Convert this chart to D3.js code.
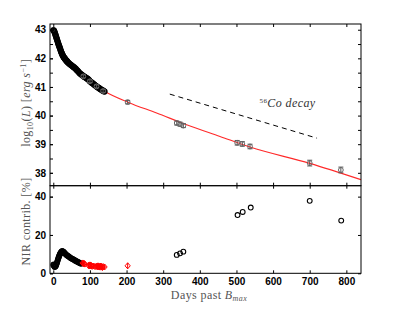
<!DOCTYPE html>
<html>
<head>
<meta charset="utf-8">
<script src="https://cdn.jsdelivr.net/npm/d3@7"></script>
<style>
  body { margin: 0; background: #fff; }
  .tick text { font-family: "Liberation Sans", Arial, sans-serif; font-weight: bold; font-size: 10px; fill: #000; }
  .lbl { font-family: "Liberation Serif", "DejaVu Serif", serif; font-weight: normal; fill: #555; letter-spacing: 0.4px; }
</style>
</head>
<body>
<div id="chart-area"></div>
<script>
// early light curve (black open circles)
const lcDays = [0, 1, 2, 3, 4, 5, 6, 7, 8, 9, 10, 11, 12, 13, 14, 15, 16, 17, 18, 19, 20, 21, 22, 23, 24, 25, 26,
    27, 28, 29, 30, 31, 32, 33, 34, 35, 36, 37, 38, 39, 40, 42, 44, 46, 48, 50, 52, 54, 56, 58, 60, 62, 64, 66,
    68, 70, 72, 74, 76, 78, 80, 82, 84, 86, 88, 90, 92, 94, 96, 98, 100, 102, 104, 106, 108, 110, 112, 114, 116,
    118, 120, 122, 124, 126, 128, 130, 132, 134, 136, 138, 140];
const lcLogL = [42.98, 42.98, 42.96, 42.93, 42.9, 42.86, 42.82, 42.78, 42.74, 42.7, 42.66, 42.62, 42.58, 42.54,
    42.5, 42.46, 42.43, 42.39, 42.36, 42.32, 42.28, 42.24, 42.21, 42.18, 42.15, 42.12, 42.1, 42.07, 42.05, 42.03,
    42.01, 42.0, 41.98, 41.96, 41.95, 41.93, 41.92, 41.9, 41.89, 41.87, 41.86, 41.83, 41.81, 41.79, 41.77, 41.75,
    41.73, 41.71, 41.69, 41.67, 41.65, 41.62, 41.59, 41.57, 41.54, 41.51, 41.48, 41.46, 41.44, 41.42, 41.4, 41.38,
    41.36, 41.35, 41.33, 41.31, 41.3, 41.28, 41.26, 41.23, 41.2, 41.18, 41.16, 41.14, 41.12, 41.1, 41.08, 41.06,
    41.04, 41.02, 41.0, 40.98, 40.97, 40.95, 40.93, 40.91, 40.9, 40.88, 40.87, 40.85, 40.84];

// points with error bars (grey)
const errDays = [82, 100, 118, 136, 203, 337, 346, 355, 502, 516, 537, 700, 785];
const errLogL = [41.37, 41.2, 41.02, 40.86, 40.47, 39.74, 39.7, 39.65, 39.05, 39.01, 38.92, 38.34, 38.1];
const errSize = [0.05, 0.05, 0.05, 0.05, 0.06, 0.07, 0.07, 0.07, 0.08, 0.08, 0.08, 0.1, 0.1];

// fitted curve (red)
const fitDays = [60, 100, 141, 205, 282, 364, 455, 537, 700, 840];
const fitLogL = [41.65, 41.2, 40.84, 40.46, 40.09, 39.68, 39.27, 38.9, 38.33, 37.76];

// 56Co decay slope (dashed)
const coDays = [318, 720];
const coLogL = [40.75, 39.21];

// NIR contribution, black circles
const nirDays = [0, 1, 2, 3, 4, 5, 6, 7, 8, 9, 10, 11, 12, 13, 14, 15, 16, 17, 18, 19, 20, 21, 22, 23, 24, 25, 26,
    27, 28, 29, 30, 32, 34, 36, 38, 40, 42, 44, 46, 48, 50, 52, 54, 56, 58, 60, 62, 64, 66, 68, 70, 72, 74, 76,
    337, 346, 355, 503, 517, 539, 700, 786];
const nirPct = [4.3, 4.6, 4.0, 3.6, 3.3, 3.5, 3.7, 4.0, 4.5, 5.0, 5.5, 6.1, 6.8, 7.4, 8.0, 8.5, 9.0, 9.5, 9.9,
    10.3, 10.6, 10.9, 11.2, 11.4, 11.5, 11.5, 11.4, 11.3, 11.1, 10.9, 10.7, 10.3, 9.9, 9.6, 9.3, 9.0, 8.8, 8.5,
    8.2, 7.9, 7.7, 7.5, 7.3, 7.1, 6.9, 6.6, 6.4, 6.2, 6.0, 5.8, 5.6, 5.4, 5.2, 5.0,
    9.6, 10.4, 11.3, 30.4, 32.0, 34.3, 37.8, 27.5];

// NIR contribution, red diamonds
const redDays = [80, 82, 84, 86, 96, 98, 100, 102, 104, 106, 110, 114, 118, 120, 122, 124, 126, 128, 130, 132,
    134, 136, 140, 203];
const redPct = [5.4, 5.0, 5.2, 4.8, 4.2, 3.8, 4.4, 3.9, 4.1, 3.6, 3.8, 3.5, 3.7, 3.4, 3.9, 3.3, 3.6, 3.2, 3.8, 3.4,
    3.0, 3.5, 3.3, 3.9];
const redErr = [1.4, 1.4, 1.4, 1.4, 1.4, 1.4, 1.4, 1.4, 1.4, 1.4, 1.4, 1.4, 1.4, 1.4, 1.4, 1.4, 1.4, 1.4, 1.4, 1.4,
    1.4, 1.4, 1.4, 1.6];

const xTicks = [0, 100, 200, 300, 400, 500, 600, 700, 800];
const yTopTicks = [38, 39, 40, 41, 42, 43];
const yTopMinor = [38, 38.5, 39, 39.5, 40, 40.5, 41, 41.5, 42, 42.5, 43];
const yBotTicks = [0, 20, 40];

const W = 415, H = 312;
const pLeft = 50, pRight = 361, pTop = 24, pMid = 185.7, pBottom = 273.3;

const svg = d3.select('#chart-area')
    .append('svg')
    .attr('width', W)
    .attr('height', H);

const x = d3.scaleLinear().domain([-9, 840]).range([pLeft, pRight]);
const yTop = d3.scaleLinear().domain([37.55, 43.2]).range([pMid, pTop]);
const yBot = d3.scaleLinear().domain([0, 45.7]).range([pBottom, pMid]);

svg.append('clipPath').attr('id', 'clipTop')
    .append('rect').attr('x', pLeft).attr('y', pTop).attr('width', pRight - pLeft).attr('height', pMid - pTop);
svg.append('clipPath').attr('id', 'clipBot')
    .append('rect').attr('x', pLeft).attr('y', pMid).attr('width', pRight - pLeft).attr('height', pBottom - pMid);

// ---- top panel ----
const gTop = svg.append('g').attr('clip-path', 'url(#clipTop)');

gTop.append('path')
    .datum(fitDays.map((d, i) => [d, fitLogL[i]]))
    .attr('fill', 'none')
    .attr('stroke', '#ff2a2a')
    .attr('stroke-width', 1.1)
    .attr('d', d3.line().x(d => x(d[0])).y(d => yTop(d[1])).curve(d3.curveMonotoneX));

gTop.append('path')
    .datum(coDays.map((d, i) => [d, coLogL[i]]))
    .attr('fill', 'none')
    .attr('stroke', '#000')
    .attr('stroke-width', 1)
    .attr('stroke-dasharray', '5,4')
    .attr('d', d3.line().x(d => x(d[0])).y(d => yTop(d[1])));

gTop.selectAll('.lc')
    .data(lcDays)
    .enter()
    .append('circle')
    .attr('cx', d => x(d))
    .attr('cy', (d, i) => yTop(lcLogL[i]))
    .attr('r', 2.5)
    .attr('fill', 'none')
    .attr('stroke', '#000')
    .attr('stroke-width', 1.2);

const eg = gTop.selectAll('.eb')
    .data(errDays)
    .enter()
    .append('g');
eg.append('line')
    .attr('x1', d => x(d)).attr('x2', d => x(d))
    .attr('y1', (d, i) => yTop(errLogL[i] - errSize[i]))
    .attr('y2', (d, i) => yTop(errLogL[i] + errSize[i]))
    .attr('stroke', '#555');
eg.append('line')
    .attr('x1', d => x(d) - 2.5).attr('x2', d => x(d) + 2.5)
    .attr('y1', (d, i) => yTop(errLogL[i] - errSize[i]))
    .attr('y2', (d, i) => yTop(errLogL[i] - errSize[i]))
    .attr('stroke', '#555');
eg.append('line')
    .attr('x1', d => x(d) - 2.5).attr('x2', d => x(d) + 2.5)
    .attr('y1', (d, i) => yTop(errLogL[i] + errSize[i]))
    .attr('y2', (d, i) => yTop(errLogL[i] + errSize[i]))
    .attr('stroke', '#555');
eg.append('circle')
    .attr('cx', d => x(d))
    .attr('cy', (d, i) => yTop(errLogL[i]))
    .attr('r', 2.4)
    .attr('fill', 'none')
    .attr('stroke', '#666')
    .attr('stroke-width', 1);

const coText = svg.append('text')
    .attr('class', 'lbl')
    .attr('x', x(563))
    .attr('y', yTop(40.3))
    .style('font-size', '12px')
    .style('font-style', 'italic')
    .style('fill', '#333');
coText.append('tspan').attr('dy', -4).style('font-size', '7px').style('font-style', 'normal').text('56');
coText.append('tspan').attr('dy', 4).text('Co decay');

// ---- bottom panel ----
const gBot = svg.append('g').attr('clip-path', 'url(#clipBot)');

gBot.selectAll('.nir')
    .data(nirDays)
    .enter()
    .append('circle')
    .attr('cx', d => x(d))
    .attr('cy', (d, i) => yBot(nirPct[i]))
    .attr('r', 2.4)
    .attr('fill', 'none')
    .attr('stroke', '#000')
    .attr('stroke-width', 1.1);

const rg = gBot.selectAll('.red')
    .data(redDays)
    .enter()
    .append('g');
rg.append('line')
    .attr('x1', d => x(d)).attr('x2', d => x(d))
    .attr('y1', (d, i) => yBot(redPct[i] - redErr[i]))
    .attr('y2', (d, i) => yBot(redPct[i] + redErr[i]))
    .attr('stroke', '#ff0000');
rg.append('path')
    .attr('transform', (d, i) => `translate(${x(d)},${yBot(redPct[i])})`)
    .attr('d', 'M0,-3L2.6,0L0,3L-2.6,0Z')
    .attr('fill', 'none')
    .attr('stroke', '#ff0000')
    .attr('stroke-width', 1);

// ---- axes ----
function frame(yScale, y0, y1, major, minor) {
    svg.append('g')
        .attr('transform', `translate(${pLeft},0)`)
        .call(d3.axisLeft(yScale).tickValues(major).tickFormat(d3.format('d')).tickSize(-3).tickPadding(4).tickSizeOuter(0))
        .call(g => g.select('.domain').remove());
    svg.append('g')
        .attr('transform', `translate(${pLeft},0)`)
        .call(d3.axisLeft(yScale).tickValues(minor).tickSize(-3).tickFormat('').tickSizeOuter(0))
        .call(g => g.select('.domain').remove());
    svg.append('g')
        .attr('transform', `translate(${pRight},0)`)
        .call(d3.axisRight(yScale).tickValues(minor).tickSize(-3).tickFormat('').tickSizeOuter(0))
        .call(g => g.select('.domain').remove());
    svg.append('g')
        .attr('transform', `translate(0,${y0})`)
        .call(d3.axisBottom(x).tickValues(xTicks).tickSize(-3).tickFormat('').tickSizeOuter(0))
        .call(g => g.select('.domain').remove());
    svg.append('g')
        .attr('transform', `translate(0,${y1})`)
        .call(d3.axisTop(x).tickValues(xTicks).tickSize(-3).tickFormat('').tickSizeOuter(0))
        .call(g => g.select('.domain').remove());
    svg.append('rect')
        .attr('x', pLeft).attr('y', y1)
        .attr('width', pRight - pLeft).attr('height', y0 - y1)
        .attr('fill', 'none').attr('stroke', '#000').attr('stroke-width', 1);
}

frame(yTop, pMid, pTop, yTopTicks, yTopMinor);
frame(yBot, pBottom, pMid, yBotTicks, yBotTicks);

svg.append('g')
    .attr('transform', `translate(0,${pBottom})`)
    .call(d3.axisBottom(x).tickValues(xTicks).tickFormat(d3.format('d')).tickSize(0).tickPadding(5))
    .call(g => g.select('.domain').remove());

// ---- labels ----
const yl1 = svg.append('text')
    .attr('class', 'lbl')
    .attr('text-anchor', 'middle')
    .attr('transform', `translate(30,${(pTop + pMid) / 2 - 2}) rotate(-90)`)
    .style('font-size', '12px');
yl1.append('tspan').text('log');
yl1.append('tspan').attr('dy', 3).style('font-size', '8px').text('10');
yl1.append('tspan').attr('dy', -3).text('(');
yl1.append('tspan').style('font-style', 'italic').text('L');
yl1.append('tspan').text(') [');
yl1.append('tspan').style('font-style', 'italic').text('erg s');
yl1.append('tspan').attr('dy', -4).style('font-size', '8px').text('\u22121');
yl1.append('tspan').attr('dy', 4).text(']');

svg.append('text')
    .attr('class', 'lbl')
    .attr('text-anchor', 'middle')
    .attr('transform', `translate(30,${(pMid + pBottom) / 2 - 8}) rotate(-90)`)
    .style('font-size', '12px')
    .text('NIR contrib. [%]');

const xl = svg.append('text')
    .attr('class', 'lbl')
    .attr('text-anchor', 'middle')
    .attr('x', 209)
    .attr('y', 299)
    .style('font-size', '12px');
xl.append('tspan').text('Days past ');
xl.append('tspan').style('font-style', 'italic').text('B');
xl.append('tspan').attr('dy', 2).style('font-size', '8px').style('font-style', 'italic').text('max');
</script>
</body>
</html>
